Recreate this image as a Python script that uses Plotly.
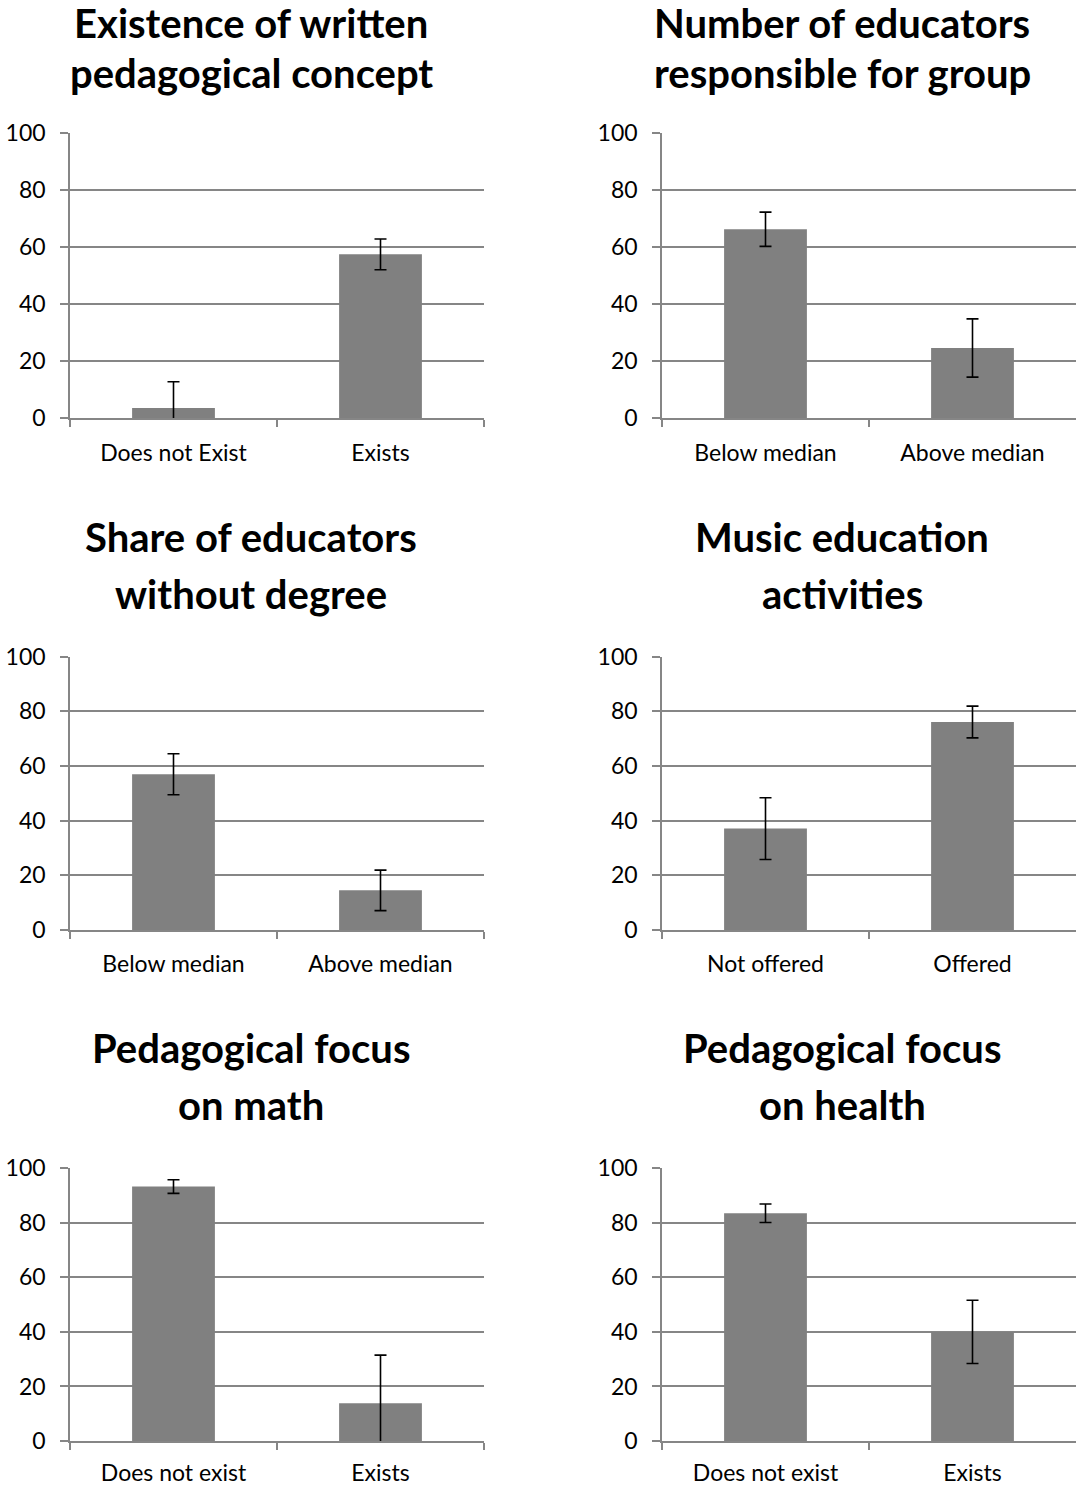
import plotly.graph_objects as go

# ---- data ----
titles = [
    ["Existence of written", "pedagogical concept"],
    ["Number of educators", "responsible for group"],
    ["Share of educators", "without degree"],
    ["Music education", "activities"],
    ["Pedagogical focus", "on math"],
    ["Pedagogical focus", "on health"],
]
categories = [
    ["Does not Exist", "Exists"],
    ["Below median", "Above median"],
    ["Below median", "Above median"],
    ["Not offered", "Offered"],
    ["Does not exist", "Exists"],
    ["Does not exist", "Exists"],
]
values = [
    [3.6, 57.4],
    [66.2, 24.6],
    [57.0, 14.5],
    [37.1, 76.1],
    [93.3, 13.8],
    [83.5, 40.0],
]
errors = [
    [9.2, 5.4],
    [6.0, 10.2],
    [7.5, 7.4],
    [11.3, 5.8],
    [2.5, 17.7],
    [3.4, 11.6],
]
y_ticks = [0, 20, 40, 60, 80, 100]

# ---- layout geometry (page pixels) ----
W, H = 1078, 1488
col_x = [(70, 484), (662, 1076)]
row_y = [(132.7, 418.3), (656.7, 930.0), (1168.3, 1441.0)]
x_standoff = [13, 13, 11]
title_cx = [251, 842]
title_cy = [(23, 73), (537, 594), (1048, 1105)]

FONT = "Lato"
GRID = "#868686"


def px(x):
    return x / W


def py(y):
    return 1 - y / H


fig = go.Figure()
annotations = []
for i in range(6):
    r, c = divmod(i, 2)
    xa = "x" if i == 0 else f"x{i+1}"
    ya = "y" if i == 0 else f"y{i+1}"
    fig.add_trace(go.Bar(
        x=categories[i], y=values[i],
        marker=dict(color="#808080", line=dict(width=0)),
        error_y=dict(type="data", array=errors[i], symmetric=True,
                     color="black", thickness=1.6, width=6),
        xaxis=xa, yaxis=ya, showlegend=False,
    ))
    x0, x1 = col_x[c]
    yt, yb = row_y[r]
    xk = "xaxis" if i == 0 else f"xaxis{i+1}"
    yk = "yaxis" if i == 0 else f"yaxis{i+1}"
    fig.layout[xk] = dict(
        domain=[px(x0), min(px(x1), 1)], anchor=ya, type="category",
        range=[-0.5, 1.5], showline=True, linecolor=GRID, linewidth=1.5,
        ticks="outside", tickson="boundaries", ticklen=7, tickcolor=GRID,
        tickwidth=1.5, showgrid=False, ticklabelstandoff=x_standoff[r],
        automargin=False,
        tickfont=dict(family=FONT, size=23, color="black"),
    )
    fig.layout[yk] = dict(
        domain=[py(yb), py(yt)], anchor=xa, range=[0, 100],
        tickvals=y_ticks, showline=True, linecolor=GRID, linewidth=1.5,
        ticks="outside", ticklen=8, tickcolor=GRID, tickwidth=1.5,
        showgrid=True, gridcolor=GRID, gridwidth=1.5, zeroline=False,
        ticklabelstandoff=10, automargin=False,
        tickfont=dict(family=FONT, size=23, color="black"),
    )
    for k in range(2):
        annotations.append(dict(
            text=f"<b>{titles[i][k]}</b>", x=px(title_cx[c]),
            y=py(title_cy[r][k]), xref="paper", yref="paper",
            xanchor="center", yanchor="middle", showarrow=False,
            font=dict(family=FONT, size=40, color="black"),
        ))

fig.update_layout(
    width=W, height=H, margin=dict(l=0, r=0, t=0, b=0),
    paper_bgcolor="white", plot_bgcolor="white",
    bargap=0.6, annotations=annotations,
)
fig.write_html(
    "out.html",
    config={"displayModeBar": False},
    post_script="document.body.style.margin='0px';"
                "document.documentElement.style.overflow='hidden';",
)
